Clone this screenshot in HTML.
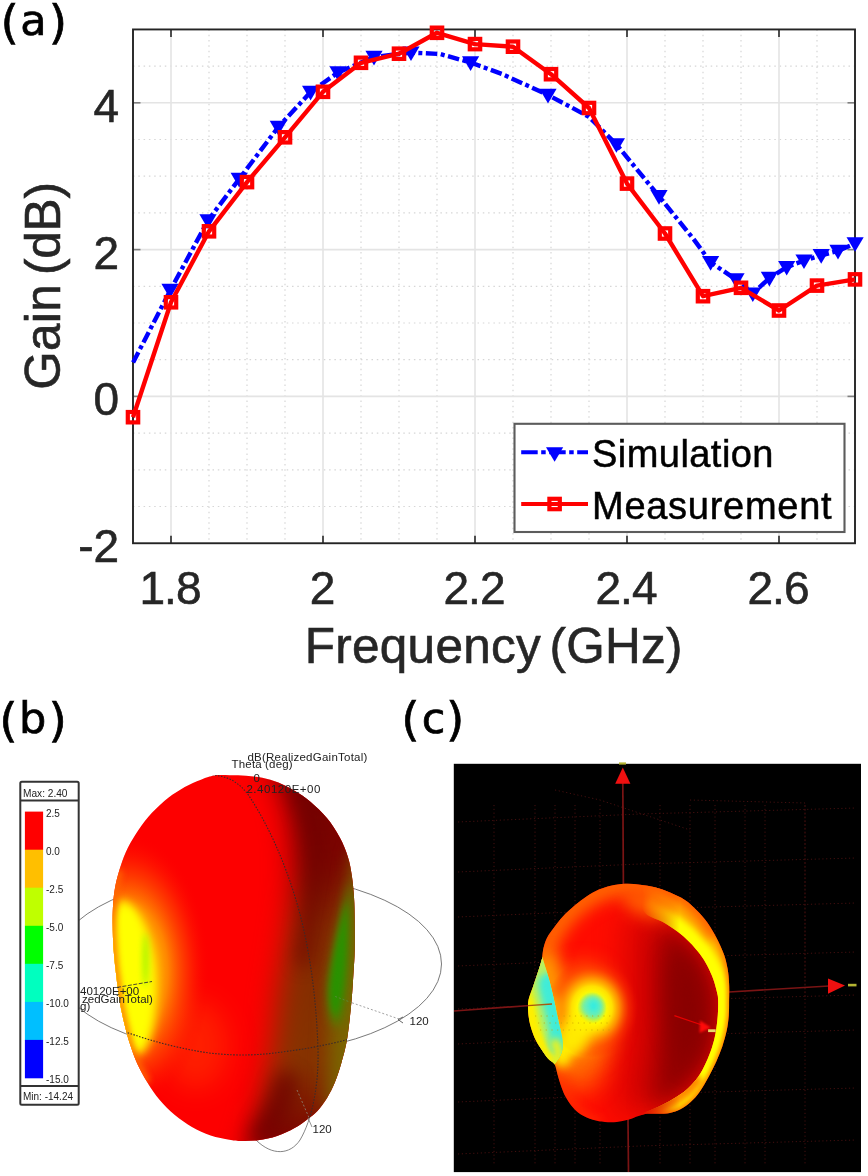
<!DOCTYPE html>
<html lang="en"><head><meta charset="utf-8"><title>Gain vs Frequency and radiation patterns</title>
<style>
html,body{margin:0;padding:0;background:#fff;}
body{width:868px;height:1176px;overflow:hidden;}
svg{display:block;}
</style></head>
<body>
<svg width="868" height="1176" viewBox="0 0 868 1176">
<rect width="868" height="1176" fill="#fff"/>
<g id="chart">
<g stroke="#d6d6d6" stroke-width="1.2" stroke-dasharray="1.5 3.8" fill="none">
<line x1="209.0" y1="29.45" x2="209.0" y2="543.2"/>
<line x1="247.0" y1="29.45" x2="247.0" y2="543.2"/>
<line x1="285.0" y1="29.45" x2="285.0" y2="543.2"/>
<line x1="361.0" y1="29.45" x2="361.0" y2="543.2"/>
<line x1="399.0" y1="29.45" x2="399.0" y2="543.2"/>
<line x1="437.0" y1="29.45" x2="437.0" y2="543.2"/>
<line x1="513.0" y1="29.45" x2="513.0" y2="543.2"/>
<line x1="551.0" y1="29.45" x2="551.0" y2="543.2"/>
<line x1="589.0" y1="29.45" x2="589.0" y2="543.2"/>
<line x1="665.0" y1="29.45" x2="665.0" y2="543.2"/>
<line x1="703.0" y1="29.45" x2="703.0" y2="543.2"/>
<line x1="741.0" y1="29.45" x2="741.0" y2="543.2"/>
<line x1="817.0" y1="29.45" x2="817.0" y2="543.2"/>
<line x1="133.0" y1="506.5" x2="855.0" y2="506.5"/>
<line x1="133.0" y1="469.8" x2="855.0" y2="469.8"/>
<line x1="133.0" y1="433.1" x2="855.0" y2="433.1"/>
<line x1="133.0" y1="359.7" x2="855.0" y2="359.7"/>
<line x1="133.0" y1="323.0" x2="855.0" y2="323.0"/>
<line x1="133.0" y1="286.3" x2="855.0" y2="286.3"/>
<line x1="133.0" y1="212.9" x2="855.0" y2="212.9"/>
<line x1="133.0" y1="176.2" x2="855.0" y2="176.2"/>
<line x1="133.0" y1="139.5" x2="855.0" y2="139.5"/>
<line x1="133.0" y1="66.1" x2="855.0" y2="66.1"/>
</g>
<g stroke="#e4e4e4" stroke-width="1.6" fill="none">
<line x1="171.0" y1="29.45" x2="171.0" y2="543.2"/>
<line x1="323.0" y1="29.45" x2="323.0" y2="543.2"/>
<line x1="475.0" y1="29.45" x2="475.0" y2="543.2"/>
<line x1="627.0" y1="29.45" x2="627.0" y2="543.2"/>
<line x1="779.0" y1="29.45" x2="779.0" y2="543.2"/>
<line x1="133.0" y1="396.4" x2="855.0" y2="396.4"/>
<line x1="133.0" y1="249.6" x2="855.0" y2="249.6"/>
<line x1="133.0" y1="102.8" x2="855.0" y2="102.8"/>
</g>
<g stroke="#262626" stroke-width="1.6" fill="none">
<line x1="171.0" y1="29.45" x2="171.0" y2="36.95"/>
<line x1="171.0" y1="543.2" x2="171.0" y2="535.7"/>
<line x1="323.0" y1="29.45" x2="323.0" y2="36.95"/>
<line x1="323.0" y1="543.2" x2="323.0" y2="535.7"/>
<line x1="475.0" y1="29.45" x2="475.0" y2="36.95"/>
<line x1="475.0" y1="543.2" x2="475.0" y2="535.7"/>
<line x1="627.0" y1="29.45" x2="627.0" y2="36.95"/>
<line x1="627.0" y1="543.2" x2="627.0" y2="535.7"/>
<line x1="779.0" y1="29.45" x2="779.0" y2="36.95"/>
<line x1="779.0" y1="543.2" x2="779.0" y2="535.7"/>
</g>
<g stroke="#808080" stroke-width="1.6" fill="none">
<line x1="133.0" y1="396.4" x2="140.5" y2="396.4"/>
<line x1="855.0" y1="396.4" x2="847.5" y2="396.4"/>
<line x1="133.0" y1="249.6" x2="140.5" y2="249.6"/>
<line x1="855.0" y1="249.6" x2="847.5" y2="249.6"/>
<line x1="133.0" y1="102.8" x2="140.5" y2="102.8"/>
<line x1="855.0" y1="102.8" x2="847.5" y2="102.8"/>
</g>
<rect x="133.0" y="29.45" width="722.0" height="513.8" fill="none" stroke="#242424" stroke-width="1.9"/>
<polyline points="133.1,362.4 171.0,289.0 208.0,220.5 239.2,179.0 278.3,127.0 310.6,92.0 338.0,72.5 374.0,57.0 411.0,52.6 440.0,54.0 470.6,62.5 502.3,74.1 548.0,95.0 589.0,116.8 616.4,144.4 659.0,196.3 693.5,239.0 710.6,262.3 736.0,279.5 752.8,293.6 769.4,278.0 786.7,267.1 804.0,260.6 821.2,255.3 838.0,251.0 855.1,243.4" fill="none" stroke="#0000ff" stroke-width="4.4" stroke-dasharray="11.5 3.5 4 3.5" stroke-linejoin="round"/>
<path d="M161.4,283.8 L178.6,283.8 L170.0,298.4 Z" fill="#0000ff"/>
<path d="M199.4,214.3 L216.6,214.3 L208.0,228.9 Z" fill="#0000ff"/>
<path d="M230.6,172.8 L247.8,172.8 L239.2,187.4 Z" fill="#0000ff"/>
<path d="M269.7,120.8 L286.9,120.8 L278.3,135.4 Z" fill="#0000ff"/>
<path d="M302.0,85.8 L319.2,85.8 L310.6,100.4 Z" fill="#0000ff"/>
<path d="M329.4,66.3 L346.6,66.3 L338.0,80.9 Z" fill="#0000ff"/>
<path d="M365.4,50.8 L382.6,50.8 L374.0,65.4 Z" fill="#0000ff"/>
<path d="M402.4,46.4 L419.6,46.4 L411.0,61.0 Z" fill="#0000ff"/>
<path d="M462.0,56.3 L479.2,56.3 L470.6,70.9 Z" fill="#0000ff"/>
<path d="M539.4,88.8 L556.6,88.8 L548.0,103.4 Z" fill="#0000ff"/>
<path d="M607.8,138.2 L625.0,138.2 L616.4,152.8 Z" fill="#0000ff"/>
<path d="M650.4,190.1 L667.6,190.1 L659.0,204.7 Z" fill="#0000ff"/>
<path d="M702.0,256.1 L719.2,256.1 L710.6,270.7 Z" fill="#0000ff"/>
<path d="M727.4,273.3 L744.6,273.3 L736.0,287.9 Z" fill="#0000ff"/>
<path d="M744.2,287.4 L761.4,287.4 L752.8,302.0 Z" fill="#0000ff"/>
<path d="M760.8,271.8 L778.0,271.8 L769.4,286.4 Z" fill="#0000ff"/>
<path d="M778.1,260.9 L795.3,260.9 L786.7,275.5 Z" fill="#0000ff"/>
<path d="M795.4,254.4 L812.6,254.4 L804.0,269.0 Z" fill="#0000ff"/>
<path d="M812.6,249.1 L829.8,249.1 L821.2,263.7 Z" fill="#0000ff"/>
<path d="M829.4,244.8 L846.6,244.8 L838.0,259.4 Z" fill="#0000ff"/>
<path d="M846.5,237.2 L863.7,237.2 L855.1,251.8 Z" fill="#0000ff"/>
<polyline points="133.0,417.2 171.0,302.3 209.0,231.3 247.0,182.1 285.0,137.3 323.0,91.8 361.0,62.8 399.0,53.7 437.0,32.8 475.0,44.1 513.0,46.7 551.0,74.2 589.0,108.0 627.0,183.6 665.0,233.5 703.0,296.2 741.0,287.8 779.0,310.5 817.0,285.6 855.0,279.4" fill="none" stroke="#ff0000" stroke-width="4.4" stroke-linejoin="round"/>
<rect x="127.8" y="412.0" width="10.4" height="10.4" fill="none" stroke="#ff0000" stroke-width="4.2"/>
<rect x="165.8" y="297.1" width="10.4" height="10.4" fill="none" stroke="#ff0000" stroke-width="4.2"/>
<rect x="203.8" y="226.1" width="10.4" height="10.4" fill="none" stroke="#ff0000" stroke-width="4.2"/>
<rect x="241.8" y="176.9" width="10.4" height="10.4" fill="none" stroke="#ff0000" stroke-width="4.2"/>
<rect x="279.8" y="132.1" width="10.4" height="10.4" fill="none" stroke="#ff0000" stroke-width="4.2"/>
<rect x="317.8" y="86.6" width="10.4" height="10.4" fill="none" stroke="#ff0000" stroke-width="4.2"/>
<rect x="355.8" y="57.6" width="10.4" height="10.4" fill="none" stroke="#ff0000" stroke-width="4.2"/>
<rect x="393.8" y="48.5" width="10.4" height="10.4" fill="none" stroke="#ff0000" stroke-width="4.2"/>
<rect x="431.8" y="27.6" width="10.4" height="10.4" fill="none" stroke="#ff0000" stroke-width="4.2"/>
<rect x="469.8" y="38.9" width="10.4" height="10.4" fill="none" stroke="#ff0000" stroke-width="4.2"/>
<rect x="507.8" y="41.5" width="10.4" height="10.4" fill="none" stroke="#ff0000" stroke-width="4.2"/>
<rect x="545.8" y="69.0" width="10.4" height="10.4" fill="none" stroke="#ff0000" stroke-width="4.2"/>
<rect x="583.8" y="102.8" width="10.4" height="10.4" fill="none" stroke="#ff0000" stroke-width="4.2"/>
<rect x="621.8" y="178.4" width="10.4" height="10.4" fill="none" stroke="#ff0000" stroke-width="4.2"/>
<rect x="659.8" y="228.3" width="10.4" height="10.4" fill="none" stroke="#ff0000" stroke-width="4.2"/>
<rect x="697.8" y="291.0" width="10.4" height="10.4" fill="none" stroke="#ff0000" stroke-width="4.2"/>
<rect x="735.8" y="282.6" width="10.4" height="10.4" fill="none" stroke="#ff0000" stroke-width="4.2"/>
<rect x="773.8" y="305.3" width="10.4" height="10.4" fill="none" stroke="#ff0000" stroke-width="4.2"/>
<rect x="811.8" y="280.4" width="10.4" height="10.4" fill="none" stroke="#ff0000" stroke-width="4.2"/>
<rect x="849.8" y="274.2" width="10.4" height="10.4" fill="none" stroke="#ff0000" stroke-width="4.2"/>
<rect x="514.5" y="423.8" width="330" height="108.2" fill="#fff" stroke="#5c5c5c" stroke-width="2.1" id="legbox"/>
<line x1="521.2" y1="452.2" x2="588" y2="452.2" stroke="#0000ff" stroke-width="3.9" stroke-dasharray="16.5 3.5 4.5 3.5"/>
<path d="M546,447.3 L563.2,447.3 L554.6,461.8 Z" fill="#0000ff"/>
<line x1="521.2" y1="504" x2="588" y2="504" stroke="#ff0000" stroke-width="3.9"/>
<rect x="549.4" y="498.8" width="10.4" height="10.4" fill="none" stroke="#ff0000" stroke-width="4.2"/>
<g font-family="'Liberation Sans', sans-serif" fill="#000" stroke="#000" stroke-width="0.5" font-size="38">
<text x="592" y="466.6" textLength="181.5" lengthAdjust="spacing">Simulation</text>
<text x="592" y="519.4" textLength="239.6" lengthAdjust="spacing">Measurement</text>
</g>
<g font-family="'Liberation Sans', sans-serif" fill="#262626" stroke="#262626" stroke-width="0.6" font-size="46">
<text x="119.2" y="121.8" text-anchor="end">4</text>
<text x="119.2" y="268.6" text-anchor="end">2</text>
<text x="119.2" y="415.4" text-anchor="end">0</text>
<text x="119.2" y="562.2" text-anchor="end">-2</text>
<text x="170.0" y="603.5" text-anchor="middle" letter-spacing="-0.9">1.8</text>
<text x="322.0" y="603.5" text-anchor="middle" letter-spacing="-0.9">2</text>
<text x="474.0" y="603.5" text-anchor="middle" letter-spacing="-0.9">2.2</text>
<text x="626.0" y="603.5" text-anchor="middle" letter-spacing="-0.9">2.4</text>
<text x="778.0" y="603.5" text-anchor="middle" letter-spacing="-0.9">2.6</text>
</g>
<g font-family="'Liberation Sans', sans-serif" fill="#262626" stroke="#262626" stroke-width="0.6" font-size="49.5">
<text y="662.6"><tspan x="304.8" letter-spacing="0.26">Frequency </tspan><tspan x="549.6" letter-spacing="0.2">(GHz)</tspan></text>
<text transform="translate(59.9,0) rotate(-90)"><tspan x="-389.8" y="0" letter-spacing="0.3">Gain </tspan><tspan x="-274.9" y="0" letter-spacing="-0.25">(dB)</tspan></text>
</g>
</g>
<g font-family="'DejaVu Sans', 'Liberation Sans', sans-serif" fill="#000" stroke="#000" stroke-width="0.7" font-size="43">
<text><tspan x="0.6" y="37.6" font-size="47">(</tspan><tspan x="20.2" y="35.0">a</tspan><tspan x="48.8" y="37.6" font-size="47">)</tspan></text>
<text><tspan x="-0.8" y="735.6" font-size="47">(</tspan><tspan x="19.0" y="733.0">b</tspan><tspan x="48.4" y="735.6" font-size="47">)</tspan></text>
<text><tspan x="401.3" y="735.4" font-size="47">(</tspan><tspan x="421.8" y="732.8">c</tspan><tspan x="446.0" y="735.4" font-size="47">)</tspan></text>
</g>
<g id="panel-b">
<defs>
<clipPath id="bclip"><path d="M230.0,775.3 C235.5,775.3 240.7,775.4 246.1,775.8 C251.5,776.2 256.9,776.7 262.3,777.8 C267.7,778.9 273.0,780.5 278.4,782.6 C283.8,784.8 289.2,787.5 294.6,790.7 C300.0,793.9 305.3,797.4 310.7,802.0 C316.1,806.6 322.0,812.2 326.9,818.1 C331.8,824.0 336.3,831.0 339.8,837.5 C343.3,844.0 345.9,850.4 347.9,856.9 C349.9,863.4 350.9,869.6 351.9,876.3 C352.9,883.0 353.5,889.8 354.0,897.3 C354.5,904.8 354.6,912.7 354.7,921.5 C354.8,930.3 354.9,941.4 354.7,949.9 C354.5,958.4 354.0,964.5 353.5,972.3 C353.0,980.1 352.6,988.4 351.9,996.5 C351.2,1004.6 350.4,1012.9 349.5,1020.7 C348.6,1028.5 347.7,1036.3 346.3,1043.3 C344.9,1050.3 343.3,1056.2 341.4,1062.7 C339.5,1069.2 337.4,1076.2 335.0,1082.1 C332.6,1088.0 329.9,1093.3 326.9,1098.2 C323.9,1103.1 320.4,1107.7 317.2,1111.2 C314.0,1114.7 311.3,1116.4 307.5,1119.2 C303.7,1122.0 299.7,1125.3 294.6,1128.1 C289.5,1130.9 283.1,1134.0 277.0,1136.0 C270.9,1138.0 264.2,1139.5 258.0,1140.3 C251.8,1141.1 244.8,1141.0 240.0,1140.9 C235.2,1140.8 234.2,1140.6 229.3,1139.7 C224.4,1138.8 216.8,1137.5 210.6,1135.4 C204.4,1133.3 197.9,1130.3 191.9,1126.9 C185.9,1123.5 180.2,1119.5 174.8,1115.0 C169.4,1110.5 164.0,1105.1 159.5,1099.7 C155.0,1094.3 151.3,1088.7 147.6,1082.7 C143.9,1076.8 140.4,1070.5 137.4,1064.0 C134.4,1057.5 132.1,1050.7 129.8,1043.6 C127.5,1036.5 125.5,1028.5 123.8,1021.4 C122.1,1014.3 120.9,1008.6 119.6,1001.0 C118.3,993.4 117.2,984.0 116.2,975.5 C115.2,967.0 114.2,958.7 113.6,950.0 C113.0,941.3 112.7,931.3 112.6,923.4 C112.5,915.5 112.8,908.6 113.2,902.4 C113.7,896.2 114.3,891.7 115.3,886.3 C116.3,880.9 117.7,875.8 119.4,870.1 C121.2,864.4 123.1,858.2 125.8,852.3 C128.5,846.4 131.7,840.5 135.5,834.6 C139.3,828.7 143.6,822.4 148.4,816.8 C153.2,811.1 159.2,805.3 164.6,800.7 C170.0,796.1 175.3,792.6 180.7,789.4 C186.1,786.2 191.5,783.6 196.9,781.3 C202.3,779.0 207.5,776.7 213.0,775.7 C218.5,774.7 224.5,775.3 230.0,775.3 Z"/></clipPath>
<filter color-interpolation-filters="sRGB" id="bl14" filterUnits="userSpaceOnUse" x="60" y="730" width="340" height="446"><feGaussianBlur stdDeviation="14"/></filter>
<filter color-interpolation-filters="sRGB" id="bl18" filterUnits="userSpaceOnUse" x="60" y="730" width="340" height="446"><feGaussianBlur stdDeviation="18"/></filter>
<filter color-interpolation-filters="sRGB" id="bl9" filterUnits="userSpaceOnUse" x="60" y="730" width="340" height="446"><feGaussianBlur stdDeviation="9"/></filter>
<filter color-interpolation-filters="sRGB" id="bl5" filterUnits="userSpaceOnUse" x="60" y="730" width="340" height="446"><feGaussianBlur stdDeviation="5"/></filter>
<filter color-interpolation-filters="sRGB" id="bl3" filterUnits="userSpaceOnUse" x="60" y="730" width="340" height="446"><feGaussianBlur stdDeviation="3"/></filter>
<filter color-interpolation-filters="sRGB" id="soft" x="-5%" y="-5%" width="110%" height="110%"><feGaussianBlur stdDeviation="0.6"/></filter>
<linearGradient id="bband" gradientUnits="userSpaceOnUse" x1="0" y1="775" x2="0" y2="1140"><stop offset="0" stop-color="#780000"/><stop offset="0.25" stop-color="#7c0600"/><stop offset="0.42" stop-color="#842a00"/><stop offset="0.8" stop-color="#863400"/><stop offset="0.93" stop-color="#801400"/><stop offset="1" stop-color="#7c0000"/></linearGradient>
<radialGradient id="bhalo" gradientUnits="userSpaceOnUse" cx="126" cy="972" r="84" gradientTransform="translate(126 972) scale(1 1.66) translate(-126 -972)"><stop offset="0" stop-color="#ffe000"/><stop offset="0.3" stop-color="#ffc800"/><stop offset="0.5" stop-color="#ff8c00" stop-opacity="0.95"/><stop offset="0.75" stop-color="#ff4000" stop-opacity="0.6"/><stop offset="1" stop-color="#ff0000" stop-opacity="0"/></radialGradient>
</defs>
<ellipse cx="248" cy="964" rx="193.5" ry="90" fill="none" stroke="#6a6a6a" stroke-width="0.9"/>
<path d="M318,1049 C319,1085 312,1120 300,1140 C290,1155 272,1156 256,1140" fill="none" stroke="#777" stroke-width="0.9"/>
<line x1="352" y1="1002.8" x2="399" y2="1019" stroke="#999" stroke-width="0.9" stroke-dasharray="2 2"/>
<path d="M403,1023 L398,1019.5 L403,1017" fill="none" stroke="#555" stroke-width="0.9"/>
<g clip-path="url(#bclip)">
<rect x="100" y="765" width="270" height="390" fill="#fd0000"/>
<path d="M262,760 C284,780 294,830 293,870 C292,920 282,960 277,1000 C273,1050 268,1090 244,1160 L380,1160 L380,760 Z" fill="url(#bband)" filter="url(#bl14)"/>
<path d="M298,790 C311,815 317,850 314,885 C311,910 307,935 303,960" fill="none" stroke="#680000" stroke-width="14" stroke-linecap="round" filter="url(#bl9)" opacity="0.7"/>
<path d="M286,1082 C282,1100 275,1116 262,1134" fill="none" stroke="#6c0000" stroke-width="22" stroke-linecap="round" filter="url(#bl9)" opacity="0.75"/>
<path d="M354,850 C348,900 336,950 332,985 C328,1020 330,1060 326,1110 L370,1110 L370,850 Z" fill="#7a6400" filter="url(#bl9)"/>
<path d="M350,880 C344,905 334,945 329,977 C326,1000 329,1020 337,1028 C343,1020 346,1000 348,972 C350,945 351,905 350,880 Z" fill="#4a8200" filter="url(#bl5)"/>
<path d="M347,900 C342,920 335,950 331.5,977 C329,996 331,1010 336,1016 C340,1008 342,994 344,972 C346,950 347,922 347,900 Z" fill="#289200" filter="url(#bl3)"/>
<ellipse cx="196" cy="1045" rx="32" ry="45" fill="#ff2c00" filter="url(#bl14)" opacity="0.7"/>
<ellipse cx="126" cy="972" rx="84" ry="140" fill="url(#bhalo)"/>
<ellipse cx="132" cy="980" rx="23" ry="75" fill="#ffff00" filter="url(#bl5)" transform="rotate(-4 132 980)"/>
<ellipse cx="123" cy="970" rx="12" ry="70" fill="#ffff00" filter="url(#bl5)"/>
<ellipse cx="145.5" cy="960" rx="2.6" ry="27" fill="#9cf400" filter="url(#bl3)"/>
<path d="M119.4,870.1 C116,882 113.5,895 112.8,910 C112.2,925 112.8,940 113.6,950 C114.5,962 115.2,970 116.2,975.5 C117.5,985 118.5,994 119.6,1001 C121,1009 122.2,1015 123.8,1021.4 C125.5,1029 127.5,1036.5 129.8,1043.6 C132,1050.5 134.5,1057.5 137.4,1064 C140,1070 144,1077 147.6,1082.7" fill="none" stroke="#ff6a00" stroke-width="7" filter="url(#bl3)" opacity="0.9"/>
<g fill="none" stroke="#3a2a2a" stroke-width="1.1" stroke-dasharray="1.5 1.5">
<path d="M209,775.6 C225,774 240,782 250,797.4 C268,825 284,860 296,900 C308,940 316,990 318,1049 C319,1085 312,1120 300,1140"/>
<path d="M100,1021.4 C127,1034 168,1047 209,1053 C240,1056.5 262,1055 286.5,1051.4 C317,1047.4 346,1041 370,1032.8"/>
</g>
<line x1="297" y1="1090" x2="309" y2="1117.6" stroke="#8a7a6a" stroke-width="0.9" stroke-dasharray="2 2"/>
<line x1="352" y1="1002.8" x2="334" y2="996" stroke="#5a8a3a" stroke-width="0.9" stroke-dasharray="2 2"/>
</g>
<g font-family="'Liberation Sans', sans-serif" font-size="11.5" fill="#222" filter="url(#soft)">
<text x="247.4" y="760.5" textLength="120" lengthAdjust="spacing">dB(RealizedGainTotal)</text>
<text x="231.6" y="767.8" textLength="61" lengthAdjust="spacing">Theta (deg)</text>
<text x="253.5" y="781.6">0</text>
<text x="246.4" y="793.2" textLength="74" lengthAdjust="spacing">2.40120E+00</text>
<text x="409.5" y="1024.8">120</text>
<text x="312.5" y="1133.2">120</text>
<text x="80" y="995.2">40120E+00</text>
<text x="82" y="1002.8">zedGainTotal)</text>
<text x="80" y="1010.2">g)</text>
</g>
<line x1="117" y1="987.4" x2="152" y2="981.5" stroke="#333" stroke-width="0.9" stroke-dasharray="4 1.5"/>
<line x1="308" y1="1118" x2="312" y2="1127" stroke="#777" stroke-width="0.8"/>
<g id="colorbar">
<rect x="20.3" y="781.7" width="58.4" height="323" rx="1.5" fill="#fff" stroke="#333" stroke-width="2"/>
<line x1="20.3" y1="800.5" x2="78.7" y2="800.5" stroke="#333" stroke-width="2"/>
<line x1="20.3" y1="1086" x2="78.7" y2="1086" stroke="#333" stroke-width="2"/>
<rect x="24.9" y="811.6" width="18.2" height="38.4" fill="#ff0000"/>
<rect x="24.9" y="849.7" width="18.2" height="38.4" fill="#ffbf00"/>
<rect x="24.9" y="887.7" width="18.2" height="38.4" fill="#bfff00"/>
<rect x="24.9" y="925.8" width="18.2" height="38.4" fill="#00ff00"/>
<rect x="24.9" y="963.8" width="18.2" height="38.4" fill="#00ffbf"/>
<rect x="24.9" y="1001.9" width="18.2" height="38.4" fill="#00bfff"/>
<rect x="24.9" y="1039.9" width="18.2" height="38.4" fill="#0000ff"/>
<g font-family="'Liberation Sans', sans-serif" font-size="10" fill="#222" filter="url(#soft)">
<text x="23" y="796.7" textLength="44.5" lengthAdjust="spacingAndGlyphs">Max: 2.40</text>
<text x="23" y="1100.3" textLength="50" lengthAdjust="spacingAndGlyphs">Min: -14.24</text>
<text x="46" y="816.6">2.5</text>
<text x="46" y="854.7">0.0</text>
<text x="46" y="892.7">-2.5</text>
<text x="46" y="930.8">-5.0</text>
<text x="46" y="968.8">-7.5</text>
<text x="46" y="1006.9">-10.0</text>
<text x="46" y="1044.9">-12.5</text>
<text x="46" y="1083.0">-15.0</text>
</g>
</g>
</g>
<g id="panel-c">
<defs>
<clipPath id="cclip"><path d="M625.1,883.8 C630.0,883.6 635.0,884.1 640.0,884.7 C645.0,885.3 650.0,885.9 655.0,887.2 C660.0,888.5 665.0,890.4 670.0,892.5 C675.0,894.6 680.4,897.0 684.9,900.0 C689.4,903.0 693.2,906.7 696.9,910.4 C700.6,914.1 704.1,917.9 707.3,922.4 C710.5,926.9 713.5,932.1 716.3,937.4 C719.0,942.6 721.9,948.7 723.8,953.9 C725.7,959.1 726.7,963.8 727.6,968.8 C728.5,973.8 728.9,978.6 729.1,983.8 C729.4,989.0 729.2,994.8 729.1,1000.0 C729.0,1005.2 729.2,1010.0 728.8,1015.0 C728.4,1020.0 727.9,1024.8 726.8,1030.0 C725.7,1035.2 724.0,1041.2 722.3,1046.4 C720.5,1051.6 718.5,1056.4 716.3,1061.4 C714.0,1066.4 711.5,1071.4 708.8,1076.4 C706.1,1081.4 702.9,1087.2 699.9,1091.4 C696.9,1095.6 694.1,1098.8 690.9,1101.8 C687.6,1104.8 683.9,1107.4 680.4,1109.3 C676.9,1111.2 673.6,1112.2 669.9,1113.0 C666.1,1113.8 661.6,1113.7 657.9,1113.8 C654.1,1113.9 650.6,1113.4 647.4,1113.8 C644.2,1114.2 641.7,1115.0 638.5,1116.0 C635.3,1117.0 631.6,1118.8 628.0,1119.8 C624.4,1120.8 620.6,1121.6 616.8,1122.0 C612.9,1122.4 608.9,1122.4 604.9,1122.0 C600.9,1121.6 596.9,1121.0 592.9,1119.8 C588.9,1118.6 584.4,1116.8 580.9,1114.6 C577.4,1112.3 574.4,1109.2 571.9,1106.3 C569.4,1103.4 567.6,1100.5 565.9,1097.3 C564.1,1094.1 562.8,1090.6 561.4,1086.9 C560.0,1083.2 558.8,1078.7 557.7,1074.9 C556.6,1071.2 556.3,1067.2 554.7,1064.4 C553.1,1061.7 550.4,1061.2 548.0,1058.4 C545.6,1055.7 542.8,1051.4 540.5,1047.9 C538.2,1044.4 536.2,1041.4 534.5,1037.4 C532.8,1033.4 531.0,1028.2 530.0,1024.0 C529.0,1019.8 528.5,1016.0 528.2,1012.0 C528.0,1008.0 527.7,1004.2 528.5,1000.0 C529.3,995.8 531.5,991.2 533.0,986.8 C534.5,982.3 536.1,977.5 537.5,973.3 C538.9,969.1 540.4,964.1 541.2,961.4 C542.0,958.7 541.9,959.1 542.3,956.9 C542.7,954.6 542.7,951.1 543.5,947.9 C544.3,944.6 545.5,940.8 547.2,937.4 C548.9,934.0 551.3,931.2 553.9,927.7 C556.5,924.2 559.4,920.1 562.9,916.4 C566.4,912.6 570.9,908.6 574.9,905.2 C578.9,901.8 582.9,898.8 586.9,896.2 C590.9,893.6 594.9,891.2 598.9,889.5 C602.9,887.8 606.5,886.7 610.9,885.7 C615.3,884.8 620.2,884.0 625.1,883.8 Z"/></clipPath>
<clipPath id="crim"><path d="M640.0,905.0 C641.2,906.6 643.7,912.1 647.4,914.9 C651.1,917.7 657.4,919.0 662.4,921.7 C667.4,924.5 672.9,928.0 677.4,931.4 C681.9,934.8 685.6,938.1 689.4,941.9 C693.1,945.6 696.9,949.9 699.9,953.9 C702.9,957.9 705.1,961.6 707.3,965.8 C709.5,970.0 711.7,974.8 713.3,979.3 C714.9,983.8 716.3,989.3 717.1,992.8 C717.9,996.2 718.0,996.3 718.1,1000.0 C718.2,1003.7 718.2,1009.5 717.8,1015.0 C717.4,1020.5 716.6,1027.5 715.6,1033.0 C714.6,1038.5 713.4,1042.9 711.8,1047.9 C710.2,1052.9 708.0,1058.2 705.8,1062.9 C703.6,1067.7 701.4,1072.2 698.4,1076.4 C695.4,1080.7 691.6,1084.9 687.9,1088.4 C684.1,1091.9 680.1,1094.6 675.9,1097.3 C671.6,1100.0 666.9,1102.5 662.4,1104.8 C657.9,1107.0 652.6,1109.2 648.9,1110.8 C645.2,1112.4 643.1,1113.1 640.0,1114.6 C636.9,1116.1 631.7,1119.1 630.0,1120.0 L640,1135 L750,1135 L750,870 L630,870 Z"/></clipPath>
<clipPath id="cbump"><path d="M542.3,956.9 C542.8,958.6 544.3,963.4 545.5,967.4 C546.7,971.4 548.2,975.8 549.5,980.8 C550.8,985.8 552.0,990.7 553.5,997.4 C555.0,1004.1 557.0,1013.9 558.5,1021.0 C560.0,1028.1 562.0,1034.7 562.5,1040.0 C563.0,1045.3 562.8,1048.9 561.5,1053.0 C560.2,1057.1 555.8,1062.5 554.7,1064.4 L520,1070 L520,950 Z"/></clipPath>
<clipPath id="clobe"><path d="M542.3,956.9 C542.8,958.6 544.3,963.4 545.5,967.4 C546.7,971.4 548.2,975.8 549.5,980.8 C550.8,985.8 552.0,990.7 553.5,997.4 C555.0,1004.1 557.0,1013.9 558.5,1021.0 C560.0,1028.1 562.0,1034.7 562.5,1040.0 C563.0,1045.3 562.8,1048.9 561.5,1053.0 C560.2,1057.1 555.8,1062.5 554.7,1064.4 L540,1150 L760,1150 L760,850 L540,850 Z"/></clipPath>
<filter color-interpolation-filters="sRGB" id="cb16" filterUnits="userSpaceOnUse" x="480" y="840" width="300" height="320"><feGaussianBlur stdDeviation="16"/></filter>
<filter color-interpolation-filters="sRGB" id="cb12" filterUnits="userSpaceOnUse" x="480" y="840" width="300" height="320"><feGaussianBlur stdDeviation="12"/></filter>
<filter color-interpolation-filters="sRGB" id="cb8" filterUnits="userSpaceOnUse" x="480" y="840" width="300" height="320"><feGaussianBlur stdDeviation="8"/></filter>
<filter color-interpolation-filters="sRGB" id="cb5" filterUnits="userSpaceOnUse" x="480" y="840" width="300" height="320"><feGaussianBlur stdDeviation="5"/></filter>
<filter color-interpolation-filters="sRGB" id="cb3" filterUnits="userSpaceOnUse" x="480" y="840" width="300" height="320"><feGaussianBlur stdDeviation="3"/></filter>
<filter color-interpolation-filters="sRGB" id="cb2" filterUnits="userSpaceOnUse" x="480" y="840" width="300" height="320"><feGaussianBlur stdDeviation="2"/></filter>
<filter color-interpolation-filters="sRGB" id="cb1" filterUnits="userSpaceOnUse" x="480" y="840" width="300" height="320"><feGaussianBlur stdDeviation="0.8"/></filter>
<linearGradient id="rimfade" gradientUnits="userSpaceOnUse" x1="642" y1="0" x2="680" y2="0"><stop offset="0" stop-color="#000"/><stop offset="1" stop-color="#fff"/></linearGradient>
<mask id="rimmask" maskUnits="userSpaceOnUse" x="500" y="850" width="260" height="300"><rect x="500" y="850" width="260" height="300" fill="url(#rimfade)"/></mask>
<radialGradient id="hole" gradientUnits="userSpaceOnUse" cx="592" cy="1008" r="46" gradientTransform="translate(592 1008) scale(1 1.08) translate(-592 -1008)">
<stop offset="0" stop-color="#2ee6e0"/><stop offset="0.12" stop-color="#3eeacc"/><stop offset="0.24" stop-color="#b8f44a"/><stop offset="0.32" stop-color="#fffa00"/><stop offset="0.44" stop-color="#ffe000"/><stop offset="0.6" stop-color="#ff9a00" stop-opacity="0.85"/><stop offset="0.8" stop-color="#ff4000" stop-opacity="0.4"/><stop offset="1" stop-color="#ff1000" stop-opacity="0"/></radialGradient>
</defs>
<rect x="453.8" y="763.8" width="407.2" height="408.3" fill="#000"/>
<g stroke="#561414" stroke-width="1" stroke-dasharray="1.2 2.6" fill="none" opacity="0.8">
<line x1="458" y1="822" x2="640" y2="814"/>
<line x1="640" y1="814" x2="856" y2="808"/>
<line x1="458" y1="872" x2="640" y2="864"/>
<line x1="640" y1="864" x2="856" y2="858"/>
<line x1="458" y1="917" x2="640" y2="909"/>
<line x1="640" y1="909" x2="856" y2="903"/>
<line x1="458" y1="966" x2="640" y2="958"/>
<line x1="640" y1="958" x2="856" y2="952"/>
<line x1="458" y1="1009" x2="640" y2="1001"/>
<line x1="640" y1="1001" x2="856" y2="995"/>
<line x1="458" y1="1044" x2="640" y2="1036"/>
<line x1="640" y1="1036" x2="856" y2="1030"/>
<line x1="458" y1="1102" x2="640" y2="1094"/>
<line x1="640" y1="1094" x2="856" y2="1088"/>
<line x1="458" y1="1154" x2="640" y2="1146"/>
<line x1="640" y1="1146" x2="856" y2="1140"/>
<line x1="494" y1="805" x2="494" y2="1165"/>
<line x1="535" y1="805" x2="535" y2="1165"/>
<line x1="555" y1="805" x2="555" y2="1165"/>
<line x1="575" y1="805" x2="575" y2="1165"/>
<line x1="600" y1="805" x2="600" y2="1165"/>
<line x1="660" y1="805" x2="660" y2="1165"/>
<line x1="690" y1="805" x2="690" y2="1165"/>
<line x1="715" y1="805" x2="715" y2="1165"/>
<line x1="745" y1="805" x2="745" y2="1165"/>
<line x1="765" y1="805" x2="765" y2="1165"/>
<line x1="805" y1="805" x2="805" y2="1165"/>
<path d="M555,790 L600,800 L690,830 M690,800 L805,803 L805,1000"/>
</g>
<g stroke="#7a1414" stroke-width="1.7" fill="none">
<line x1="622.8" y1="783" x2="623.4" y2="885"/>
<line x1="628" y1="1119" x2="628.5" y2="1172"/>
<line x1="729" y1="992" x2="829" y2="986"/>
<line x1="454" y1="1011" x2="530" y2="1005.5"/>
</g>
<path d="M622.8,767.5 L630.4,783.8 L615.2,783.8 Z" fill="#f01010"/>
<path d="M845,985.6 L828,978.4 L828,993.8 Z" fill="#f01010"/>
<rect x="848" y="983.8" width="8.5" height="2.6" fill="#b4b432"/>
<rect x="619" y="762.4" width="7" height="2.2" fill="#b4b432"/>
<g clip-path="url(#cclip)">
<rect x="520" y="876" width="220" height="256" fill="#ff0c00"/>
<path d="M628,905 L662.4,921.7 L689.4,941.9 L707.3,965.8 L717.1,992.8 L717.8,1015 L711.8,1047.9 L698.4,1076.4 L675.9,1097.3 L648.9,1110.8 L615,1116 C622,1080 626,1040 626,1000 C626,965 626,935 628,905 Z" fill="#c80000" filter="url(#cb16)" opacity="0.8"/>
<path d="M660,918 L662.4,921.7 L677.4,931.4 L689.4,941.9 L699.9,953.9 L707.3,965.8 L713.3,979.3 L717.1,992.8 L718.1,1000 L717.8,1015 L715.6,1033 L711.8,1047.9 L705.8,1062.9 L698.4,1076.4 L687.9,1088.4 L675.9,1097.3 L662.4,1104.8 L648.9,1110.8 L650,1108 C656,1080 660,1040 660,1000 C660,965 660,940 660,918 Z" fill="#8c0000" filter="url(#cb12)" opacity="0.95"/>
<ellipse cx="686" cy="1010" rx="16" ry="55" fill="#860000" filter="url(#cb12)" transform="rotate(-8 686 1010)" opacity="0.7"/>
<path d="M543,975 C540,930 580,888 625,883.8 C640,884 655,887 672,893" fill="none" stroke="#ff6a00" stroke-width="22" filter="url(#cb8)"/>
<path d="M556,1070 C560,1095 575,1115 600,1122" fill="none" stroke="#ff3a00" stroke-width="8" filter="url(#cb5)" opacity="0.6"/>
<ellipse cx="646" cy="903" rx="24" ry="13" fill="#ff5a00" filter="url(#cb8)" transform="rotate(18 646 903)"/>
<g clip-path="url(#clobe)">
<ellipse cx="580" cy="1050" rx="26" ry="42" fill="#ff7400" filter="url(#cb12)" opacity="0.85"/>
<ellipse cx="584" cy="1012" rx="31" ry="46" fill="#ff8a00" filter="url(#cb12)" opacity="0.9"/>
<path d="M542.3,956.9 C542.8,958.6 544.3,963.4 545.5,967.4 C546.7,971.4 548.2,975.8 549.5,980.8 C550.8,985.8 552.0,990.7 553.5,997.4 C555.0,1004.1 557.0,1013.9 558.5,1021.0 C560.0,1028.1 562.0,1034.7 562.5,1040.0 C563.0,1045.3 562.8,1048.9 561.5,1053.0 C560.2,1057.1 555.8,1062.5 554.7,1064.4" fill="none" stroke="#ff9a00" stroke-width="26" filter="url(#cb8)"/>
<path d="M556,1005 C560,1025 566,1042 562,1058" fill="none" stroke="#ffee00" stroke-width="16" stroke-linecap="round" filter="url(#cb5)"/>
<ellipse cx="578" cy="1030" rx="19" ry="24" fill="#fff000" filter="url(#cb5)" transform="rotate(25 578 1030)"/>
<circle cx="592" cy="1008" r="54" fill="url(#hole)"/>
<ellipse cx="576" cy="1032" rx="14" ry="20" fill="#fff200" filter="url(#cb5)" transform="rotate(25 576 1032)" opacity="0.9"/>
<ellipse cx="592.5" cy="1006.5" rx="10" ry="10.5" fill="#8af0a0" filter="url(#cb3)"/>
<ellipse cx="593.5" cy="1006" rx="6.5" ry="7.5" fill="#30ece4" filter="url(#cb3)"/>
</g>
<g clip-path="url(#cbump)">
<rect x="515" y="945" width="60" height="130" fill="#f6f400"/>
<path d="M542.3,956.9 C542.8,958.6 544.3,963.4 545.5,967.4 C546.7,971.4 548.2,975.8 549.5,980.8 C550.8,985.8 552.0,990.7 553.5,997.4 C555.0,1004.1 557.0,1013.9 558.5,1021.0 C560.0,1028.1 562.0,1034.7 562.5,1040.0 C563.0,1045.3 562.8,1048.9 561.5,1053.0 C560.2,1057.1 555.8,1062.5 554.7,1064.4" fill="none" stroke="#b8f060" stroke-width="40" filter="url(#cb3)"/>
<path d="M550,984 C552,996 556,1008 558.5,1021 C561,1032 562,1040 560,1046" fill="none" stroke="#40ecd8" stroke-width="23" stroke-linecap="round" filter="url(#cb3)"/>
<path d="M529,1000 C531,1022 539,1044 553,1062" fill="none" stroke="#ffee00" stroke-width="7" filter="url(#cb2)"/>
<path d="M553,1040 C560,1050 560,1058 554,1064" fill="none" stroke="#e8f020" stroke-width="10" filter="url(#cb3)"/>
</g>
<line x1="528" y1="1005.7" x2="552" y2="1004" stroke="#a85a10" stroke-width="1.3"/>
<g stroke="#c8a000" stroke-width="1" stroke-dasharray="1.2 4.5" fill="none" opacity="0.7">
<line x1="535" y1="1016" x2="612" y2="1016"/><line x1="538" y1="1023" x2="610" y2="1023"/><line x1="540" y1="1030" x2="612" y2="1030"/>
</g>
<g mask="url(#rimmask)"><g clip-path="url(#crim)">
<rect x="630" y="870" width="120" height="265" fill="#ffb000"/>
<path d="M640.0,905.0 C641.2,906.6 643.7,912.1 647.4,914.9 C651.1,917.7 657.4,919.0 662.4,921.7 C667.4,924.5 672.9,928.0 677.4,931.4 C681.9,934.8 685.6,938.1 689.4,941.9 C693.1,945.6 696.9,949.9 699.9,953.9 C702.9,957.9 705.1,961.6 707.3,965.8 C709.5,970.0 711.7,974.8 713.3,979.3 C714.9,983.8 716.3,989.3 717.1,992.8 C717.9,996.2 718.0,996.3 718.1,1000.0 C718.2,1003.7 718.2,1009.5 717.8,1015.0 C717.4,1020.5 716.6,1027.5 715.6,1033.0 C714.6,1038.5 713.4,1042.9 711.8,1047.9 C710.2,1052.9 708.0,1058.2 705.8,1062.9 C703.6,1067.7 701.4,1072.2 698.4,1076.4 C695.4,1080.7 691.6,1084.9 687.9,1088.4 C684.1,1091.9 680.1,1094.6 675.9,1097.3 C671.6,1100.0 666.9,1102.5 662.4,1104.8 C657.9,1107.0 652.6,1109.2 648.9,1110.8 C645.2,1112.4 643.1,1113.1 640.0,1114.6 C636.9,1116.1 631.7,1119.1 630.0,1120.0" fill="none" stroke="#ffff00" stroke-width="26" filter="url(#cb3)"/>
<path d="M648,1111 L662.4,1104.8 L675.9,1097.3 L687.9,1088.4 L698.4,1076.4" fill="none" stroke="#ff6a00" stroke-width="14" filter="url(#cb3)" opacity="0.8"/>
<path d="M625.1,883.8 C630.0,883.6 635.0,884.1 640.0,884.7 C645.0,885.3 650.0,885.9 655.0,887.2 C660.0,888.5 665.0,890.4 670.0,892.5 C675.0,894.6 680.4,897.0 684.9,900.0 C689.4,903.0 693.2,906.7 696.9,910.4 C700.6,914.1 704.1,917.9 707.3,922.4 C710.5,926.9 713.5,932.1 716.3,937.4 C719.0,942.6 721.9,948.7 723.8,953.9 C725.7,959.1 726.7,963.8 727.6,968.8 C728.5,973.8 728.9,978.6 729.1,983.8 C729.4,989.0 729.2,994.8 729.1,1000.0 C729.0,1005.2 729.2,1010.0 728.8,1015.0 C728.4,1020.0 727.9,1024.8 726.8,1030.0 C725.7,1035.2 724.0,1041.2 722.3,1046.4 C720.5,1051.6 718.5,1056.4 716.3,1061.4 C714.0,1066.4 711.5,1071.4 708.8,1076.4 C706.1,1081.4 702.9,1087.2 699.9,1091.4 C696.9,1095.6 694.1,1098.8 690.9,1101.8 C687.6,1104.8 683.9,1107.4 680.4,1109.3 C676.9,1111.2 673.6,1112.2 669.9,1113.0 C666.1,1113.8 661.6,1113.7 657.9,1113.8 C654.1,1113.9 650.6,1113.4 647.4,1113.8 C644.2,1114.2 641.7,1115.0 638.5,1116.0 C635.3,1117.0 631.6,1118.8 628.0,1119.8 C624.4,1120.8 620.6,1121.6 616.8,1122.0 C612.9,1122.4 608.9,1122.4 604.9,1122.0 C600.9,1121.6 596.9,1121.0 592.9,1119.8 C588.9,1118.6 584.4,1116.8 580.9,1114.6 C577.4,1112.3 574.4,1109.2 571.9,1106.3 C569.4,1103.4 567.6,1100.5 565.9,1097.3 C564.1,1094.1 562.8,1090.6 561.4,1086.9 C560.0,1083.2 558.8,1078.7 557.7,1074.9 C556.6,1071.2 556.3,1067.2 554.7,1064.4 C553.1,1061.7 550.4,1061.2 548.0,1058.4 C545.6,1055.7 542.8,1051.4 540.5,1047.9 C538.2,1044.4 536.2,1041.4 534.5,1037.4 C532.8,1033.4 531.0,1028.2 530.0,1024.0 C529.0,1019.8 528.5,1016.0 528.2,1012.0 C528.0,1008.0 527.7,1004.2 528.5,1000.0 C529.3,995.8 531.5,991.2 533.0,986.8 C534.5,982.3 536.1,977.5 537.5,973.3 C538.9,969.1 540.4,964.1 541.2,961.4 C542.0,958.7 541.9,959.1 542.3,956.9 C542.7,954.6 542.7,951.1 543.5,947.9 C544.3,944.6 545.5,940.8 547.2,937.4 C548.9,934.0 551.3,931.2 553.9,927.7 C556.5,924.2 559.4,920.1 562.9,916.4 C566.4,912.6 570.9,908.6 574.9,905.2 C578.9,901.8 582.9,898.8 586.9,896.2 C590.9,893.6 594.9,891.2 598.9,889.5 C602.9,887.8 606.5,886.7 610.9,885.7 C615.3,884.8 620.2,884.0 625.1,883.8 Z" fill="none" stroke="#ff7a00" stroke-width="4" filter="url(#cb2)"/>
<path d="M640,880 C672,884 700,905 716,935" fill="none" stroke="#ff6a00" stroke-width="16" filter="url(#cb5)"/>
</g></g>
<line x1="674.4" y1="1015.7" x2="702" y2="1025" stroke="#e80000" stroke-width="1.3"/>
<path d="M711,1027.5 L700,1020.5 L699.5,1033 Z" fill="#ff0a0a" filter="url(#cb1)"/>
<rect x="708.1" y="1029.3" width="7.6" height="2.8" fill="#e8d868"/>
</g>
</g>
</svg>
</body></html>
